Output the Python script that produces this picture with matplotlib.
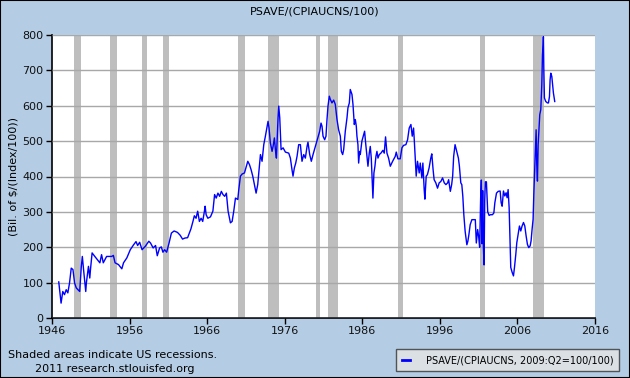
"""FRED-style chart: real personal saving deflated by CPI (PSAVE/(CPIAUCNS/100))."""

import matplotlib

matplotlib.use("Agg")
import matplotlib.pyplot as plt
from matplotlib.lines import Line2D

# decimal years and values (billions of 2009 dollars)
years = [
    1946.87, 1947.17, 1947.39, 1947.61, 1947.83, 1948.04, 1948.26, 1948.48, 1948.70, 1948.91,
    1949.13, 1949.35, 1949.57, 1949.78, 1949.91, 1950.09, 1950.35, 1950.43, 1950.70, 1950.87,
    1950.96, 1951.17, 1951.52, 1952.17, 1952.39, 1952.61, 1953.04, 1953.70, 1953.91, 1954.13,
    1954.57, 1955.00, 1955.22, 1955.65, 1956.09, 1956.52, 1956.83, 1957.04, 1957.30, 1957.61,
    1958.04, 1958.48, 1958.70, 1959.04, 1959.35, 1959.57, 1959.87, 1960.09, 1960.30, 1960.52,
    1960.78, 1961.09, 1961.39, 1961.74, 1962.17, 1962.52, 1962.83, 1963.13, 1963.48, 1963.70,
    1963.91, 1964.17, 1964.35, 1964.57, 1964.78, 1965.00, 1965.22, 1965.43, 1965.65, 1965.74,
    1965.87, 1966.09, 1966.43, 1966.74, 1966.96, 1967.17, 1967.39, 1967.61, 1967.83, 1968.04,
    1968.26, 1968.48, 1968.70,
    1969.00, 1969.22, 1969.43, 1969.65, 1969.95, 1970.08, 1970.29, 1970.51, 1970.81, 1971.06,
    1971.24, 1971.45, 1971.67, 1971.88, 1972.10, 1972.31, 1972.52, 1972.74, 1972.87, 1973.08,
    1973.30, 1973.51, 1973.73, 1973.85, 1973.98, 1974.15, 1974.37, 1974.50, 1974.67, 1974.80,
    1974.93, 1975.01, 1975.14, 1975.23, 1975.36, 1975.53, 1975.79, 1976.09, 1976.52, 1976.73,
    1976.94, 1977.07, 1977.24, 1977.42, 1977.59, 1977.80, 1978.02, 1978.23, 1978.45, 1978.66,
    1978.88, 1979.00, 1979.22, 1979.43, 1979.65, 1979.95, 1980.25, 1980.51, 1980.68, 1980.81,
    1980.94, 1981.15, 1981.32, 1981.45, 1981.58, 1981.75, 1981.88, 1982.09, 1982.31, 1982.52,
    1982.74, 1982.95, 1983.17, 1983.30, 1983.47, 1983.60, 1983.81, 1984.03, 1984.15, 1984.33,
    1984.45, 1984.67, 1984.80, 1984.97, 1985.10, 1985.23, 1985.31, 1985.44, 1985.53, 1985.66,
    1985.74, 1985.95, 1986.17, 1986.30, 1986.43, 1986.60, 1986.73, 1986.90, 1987.03, 1987.16,
    1987.29, 1987.37, 1987.50, 1987.63, 1987.76, 1987.89, 1988.02, 1988.19, 1988.40, 1988.66,
    1988.83, 1989.00, 1989.18, 1989.39, 1989.61, 1989.91, 1990.25, 1990.38, 1990.59, 1990.89,
    1991.11, 1991.32, 1991.62, 1991.84, 1992.05, 1992.27, 1992.44, 1992.61, 1992.70, 1992.82,
    1992.95, 1993.12, 1993.34, 1993.47, 1993.68, 1993.81, 1993.98, 1994.07,
    1994.24, 1994.39, 1994.61, 1994.83, 1994.96, 1995.13, 1995.26, 1995.48, 1995.70, 1995.91,
    1996.13, 1996.35, 1996.57, 1996.78, 1997.00, 1997.13, 1997.35, 1997.52, 1997.65, 1997.78,
    1997.96, 1998.17, 1998.39, 1998.52, 1998.70, 1998.83, 1998.96, 1999.09, 1999.26, 1999.48,
    1999.61, 1999.74, 1999.91, 2000.13, 2000.39, 2000.57, 2000.70, 2000.87, 2001.00, 2001.13,
    2001.26, 2001.35, 2001.43, 2001.52, 2001.61, 2001.70, 2001.78, 2001.87, 2002.00, 2002.17,
    2002.35, 2002.52, 2002.78, 2002.96, 2003.09, 2003.30, 2003.52,
    2003.77, 2003.90, 2004.03, 2004.20, 2004.37, 2004.54, 2004.67, 2004.80, 2004.93, 2005.06,
    2005.14, 2005.32, 2005.49, 2005.62, 2005.79, 2005.92, 2006.13, 2006.26, 2006.43, 2006.60,
    2006.78, 2006.95, 2007.12, 2007.29, 2007.46, 2007.64, 2007.76, 2007.89, 2008.02, 2008.11,
    2008.24, 2008.32, 2008.41, 2008.49, 2008.58, 2008.67, 2008.75, 2008.88, 2009.01, 2009.14,
    2009.23, 2009.31, 2009.35, 2009.40, 2009.48, 2009.65, 2009.87, 2010.00, 2010.13, 2010.21,
    2010.30, 2010.43, 2010.56, 2010.64, 2010.77, 2010.81,
]
saving = [
    102, 42, 75, 66, 80, 71, 99, 141, 137, 99,
    85, 80, 75, 146, 174, 132, 75, 99, 146, 113,
    137, 184, 174, 156, 179, 156, 174, 174, 177, 156,
    151, 139, 156, 170, 193, 207, 216, 205, 214, 193,
    203, 217, 212, 198, 205, 176, 198, 201, 186, 193,
    186, 212, 240, 246, 242, 234, 223, 226, 227, 240,
    252, 273, 289, 282, 302, 273, 282, 273, 302, 316,
    292, 282, 286, 302, 349, 339, 353, 344, 358, 349,
    344, 353, 302,
    269, 273, 302, 339, 335, 363, 401, 407, 410, 429,
    443, 434, 419, 401, 377, 353, 377, 429, 462, 443,
    490, 514, 542, 556, 537, 495, 471, 485, 509, 476,
    452, 495, 566, 599, 566, 476, 481, 469, 466, 452,
    419, 401, 424, 438, 457, 490, 490, 443, 462, 452,
    485, 497, 462, 443, 462, 485, 509, 528, 551, 542,
    514, 504, 514, 561, 599, 627, 618, 608, 616, 604,
    561, 532, 514, 471, 462, 476, 528, 566, 594, 608,
    646, 632, 604, 547, 561, 542, 514, 490, 438, 471,
    462, 500, 518, 528, 495, 457, 429, 466, 485, 452,
    377, 339, 410, 429, 457, 471, 452, 462, 466, 474,
    466, 512, 466, 452, 429, 443, 457, 469, 450, 450,
    481, 488, 490, 504, 537, 547, 514, 537, 504, 452,
    401, 443, 410, 438, 396, 438, 363, 336,
    401, 405, 424, 452, 464, 419, 391, 382, 367, 382,
    386, 396, 382, 377, 382, 391, 358, 377, 401, 457,
    490, 471, 452, 429, 382, 377, 344, 292, 245, 207,
    217, 235, 264, 278, 278, 278, 212, 250, 231, 200,
    340, 390, 210, 360, 200, 150, 330, 385, 385, 300,
    290, 292, 292, 297, 326, 353, 358,
    359, 326, 316, 359, 345, 354, 340, 363, 312, 213,
    143, 129, 119, 143, 180, 213, 241, 260, 246, 260,
    270, 260, 232, 208, 199, 204, 218, 251, 279, 349,
    429, 476, 532, 434, 387, 490, 523, 575, 589, 659,
    744, 772, 795, 706, 622, 612, 608, 608, 626, 673,
    692, 683, 654, 636, 617, 612,
]

# NBER recessions (start, end) in decimal years
recessions = [
    (1948.87, 1949.79), (1953.54, 1954.37), (1957.62, 1958.29), (1960.29, 1961.12),
    (1969.95, 1970.87), (1973.87, 1975.21), (1980.04, 1980.54), (1981.54, 1982.87),
    (1990.54, 1991.21), (2001.21, 2001.87), (2007.95, 2009.46),
]

x_ticks = list(range(1946, 2017, 10))
y_ticks = list(range(0, 801, 100))

BG = "#B4CDE5"

fig = plt.figure(figsize=(6.3, 3.78), dpi=100, facecolor=BG)
fig.patches.append(plt.Rectangle((0, 0), 1, 1, transform=fig.transFigure,
                                 fill=False, edgecolor="black", linewidth=1.5))
ax = fig.add_axes([52 / 630, 1 - 318 / 378, (595 - 52) / 630, (318 - 35) / 378])
ax.set_facecolor("white")

for start, end in recessions:
    ax.axvspan(start, end, color="#BEBEBE", linewidth=0, zorder=1)

ax.plot(years, saving, color="#0000FF", linewidth=1.0, zorder=3)

ax.set_xlim(1946, 2016)
ax.set_ylim(0, 800)
ax.set_xticks(x_ticks)
ax.set_yticks(y_ticks)
ax.tick_params(labelsize=8, length=4, width=1, color="black", labelcolor="#111111", pad=2)
ax.yaxis.grid(True, color="#A8A8A8", linewidth=1, zorder=2)
ax.set_axisbelow(False)
for side in ("top", "right"):
    ax.spines[side].set_visible(False)
for side in ("left", "bottom"):
    ax.spines[side].set_linewidth(1.2)

fig.text(0.5, 1 - 12 / 378, "PSAVE/(CPIAUCNS/100)", ha="center", va="center", fontsize=8)
fig.text(14 / 630, 1 - 176 / 378, "(Bil. of \\$/(Index/100))", rotation=90,
         ha="center", va="center", fontsize=8)
fig.text(8 / 630, 1 - 355 / 378, "Shaded areas indicate US recessions.", fontsize=8,
         va="center")
fig.text(35 / 630, 1 - 369 / 378, "2011 research.stlouisfed.org", fontsize=8, va="center")

handle = Line2D([], [], color="#0000FF", linewidth=2)
leg = fig.legend([handle], ["PSAVE/(CPIAUCNS, 2009:Q2=100/100)"], loc="lower right",
                 bbox_to_anchor=(619 / 630, 1 - 371 / 378), fontsize=7, frameon=True,
                 fancybox=False, handlelength=0.8, handletextpad=1.6, borderpad=0.6,
                 borderaxespad=0)
leg.get_frame().set_facecolor("#E6E6E6")
leg.get_frame().set_edgecolor("#333333")
leg.get_frame().set_linewidth(1)

fig.savefig("out.png", dpi=100, facecolor=BG)
